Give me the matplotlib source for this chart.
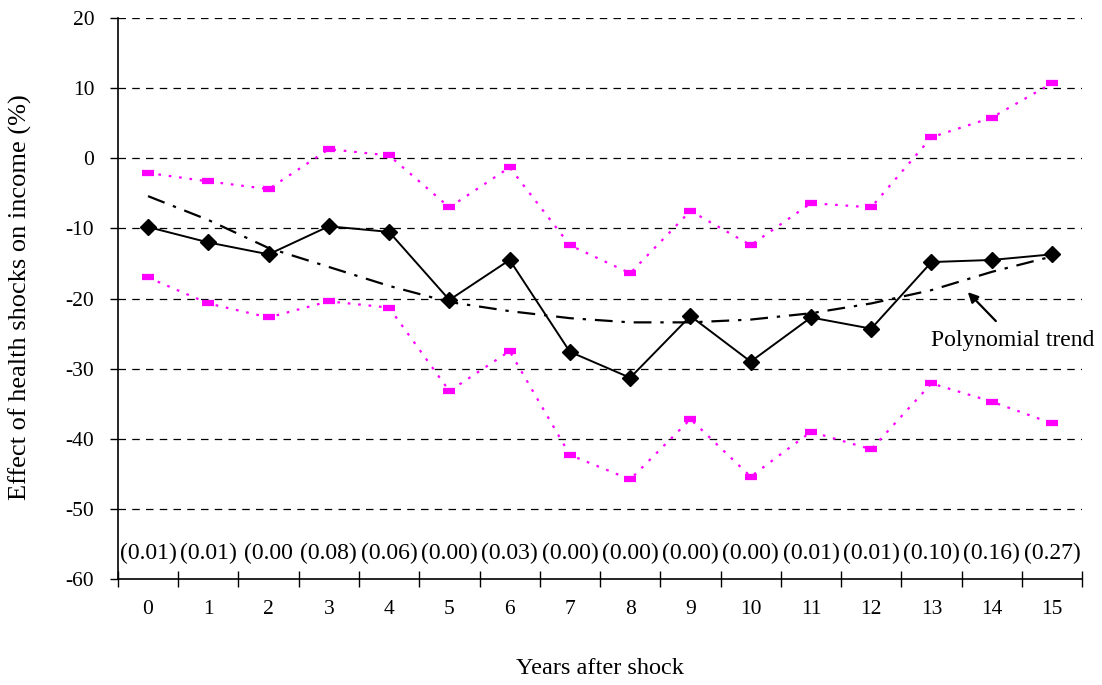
import matplotlib
matplotlib.use("Agg")
import matplotlib.pyplot as plt
import numpy as np

years = list(range(16))
effect = [-9.8, -12.0, -13.7, -9.7, -10.5, -20.2, -14.5, -27.6, -31.3, -22.5, -29.0, -22.7, -24.3, -14.8, -14.5, -13.7]
upper = [-2.1, -3.3, -4.4, 1.3, 0.4, -7.0, -1.3, -12.4, -16.4, -7.5, -12.4, -6.4, -7.0, 3.0, 5.8, 10.7]
lower = [-17.0, -20.7, -22.7, -20.4, -21.3, -33.2, -27.5, -42.3, -45.8, -37.2, -45.4, -39.0, -41.5, -32.1, -34.7, -37.8]
trend = [-5.4, -8.8, -12.8, -15.5, -18.2, -20.5, -21.8, -22.8, -23.4, -23.4, -23.0, -22.1, -20.7, -18.8, -16.2, -14.0]
pvalues = ["(0.01)", "(0.01)", "(0.00", "(0.08)", "(0.06)", "(0.00)", "(0.03)", "(0.00)",
           "(0.00)", "(0.00)", "(0.00)", "(0.01)", "(0.01)", "(0.10)", "(0.16)", "(0.27)"]
yticks = [20, 10, 0, -10, -20, -30, -40, -50, -60]

plt.rcParams['font.family'] = ['Liberation Serif', 'DejaVu Serif']

fig = plt.figure(figsize=(11.02, 6.85), dpi=100)
ax = fig.add_axes([0.107, 0.1547, 0.875, 0.819])

x = np.array(years) + 0.5

for t in yticks:
    if t != -60:
        ax.axhline(t, color='black', linestyle=(0, (6, 5)), linewidth=0.9, zorder=0)

mag = '#FF00FF'
ax.plot(x, upper, color=mag, linestyle=(0, (1.2, 3.5)), linewidth=1.6,
        marker='_', markersize=8, markeredgewidth=4.5, zorder=2)
ax.plot(x, lower, color=mag, linestyle=(0, (1.2, 3.5)), linewidth=1.6,
        marker='_', markersize=8, markeredgewidth=4.5, zorder=2)
ax.plot(x, trend, color='black', linestyle=(0, (8, 4, 1.5, 4)), linewidth=1.6, zorder=3)
ax.plot(x, effect, color='black', linewidth=1.4, marker='D', markersize=8.5, zorder=4)

for xi, p in zip(x, pvalues):
    ax.text(xi, -56.4, p, ha='center', va='center', fontsize=17)

ax.annotate("", xy=(14.07, -18.8), xytext=(14.6, -23.5),
            arrowprops=dict(arrowstyle='-|>', color='black', lw=1.6, mutation_scale=15))
ax.text(13.5, -26.0, "Polynomial trend", ha='left', va='center', fontsize=17)

ax.set_xlim(0, 16)
ax.set_ylim(-60, 20)
ax.set_yticks(yticks)
ax.set_yticklabels([str(t) for t in yticks], fontsize=15.5)
ax.set_xticks(np.arange(0, 17))
ax.set_xticklabels([])
ax.set_xticks(x, minor=True)
ax.set_xticklabels([str(y) for y in years], minor=True, fontsize=15.5)
ax.tick_params(axis='x', which='major', direction='inout', length=12, width=1)
ax.tick_params(axis='x', which='minor', length=0, pad=15)
ax.tick_params(axis='y', direction='out', length=6, width=1, pad=11)

for s in ['top', 'right']:
    ax.spines[s].set_visible(False)
ax.spines['left'].set_linewidth(1.2)
ax.spines['bottom'].set_linewidth(1.2)

fig.text(600 / 1102, 1 - 668 / 685, "Years after shock", ha='center', va='center', fontsize=17.5)
fig.text(20 / 1102, 1 - 297 / 685, "Effect of health shocks on income (%)", ha='center', va='center',
         rotation=90, fontsize=19)

fig.savefig("out.png", dpi=100)
